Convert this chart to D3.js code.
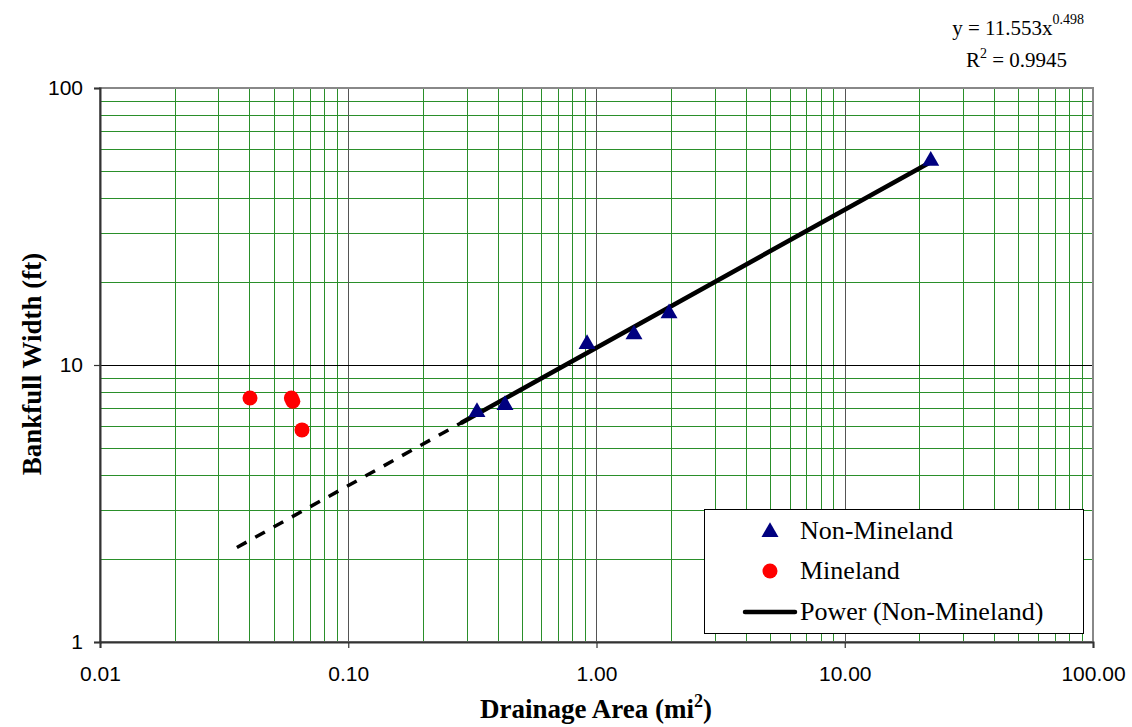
<html>
<head>
<title>bankfull width</title>
<script src="https://cdn.jsdelivr.net/npm/d3@7"></script>
<style>
body { margin: 0; background: white; }
</style>
</head>
<body>
<svg id="chart" width="1132" height="727"></svg>
<script>
// data
var nonMineArea  = [0.330, 0.428, 0.916, 1.416, 1.96, 22.2];
var nonMineWidth = [6.82, 7.23, 12.0, 13.0, 15.5, 55.0];
var mineArea  = [0.0402, 0.0590, 0.0598, 0.0651];
var mineWidth = [7.6, 7.6, 7.4, 5.83];
var fitCoef = 11.553, fitExp = 0.498;
var trendSolid = [0.287, 22.2];
var trendDash  = [0.0356, 0.287];
var xTicks = [0.01, 0.1, 1, 10, 100];
var xTickLabels = ["0.01", "0.10", "1.00", "10.00", "100.00"];
var yTicks = [1, 10, 100];
var yTickLabels = ["1", "10", "100"];
var legendNames = ["Non-Mineland", "Mineland", "Power (Non-Mineland)"];

var plotLeft = 100, plotRight = 1093, plotTop = 88, plotBottom = 642;
var serif = "Liberation Serif, Times New Roman, serif";
var svg = d3.select("#chart");

var x = d3.scaleLog().domain([0.01, 100]).range([plotLeft, plotRight]);
var y = d3.scaleLog().domain([1, 100]).range([plotBottom, plotTop]);

// minor grid lines
var minorX = [], minorY = [];
[0.01, 0.1, 1, 10].forEach(function(d) {
  for (var k = 2; k <= 9; k++) minorX.push(d * k);
});
[1, 10].forEach(function(d) {
  for (var k = 2; k <= 9; k++) minorY.push(d * k);
});

var grid = svg.append("g").attr("shape-rendering", "crispEdges");
grid.selectAll("line.mx").data(minorX).enter().append("line")
  .attr("x1", function(d) { return Math.round(x(d)) + 0.5; })
  .attr("x2", function(d) { return Math.round(x(d)) + 0.5; })
  .attr("y1", plotTop).attr("y2", plotBottom)
  .style("stroke", "#2a8f2a").style("stroke-width", 1);
grid.selectAll("line.my").data(minorY).enter().append("line")
  .attr("y1", function(d) { return Math.round(y(d)) + 0.5; })
  .attr("y2", function(d) { return Math.round(y(d)) + 0.5; })
  .attr("x1", plotLeft).attr("x2", plotRight)
  .style("stroke", "#2a8f2a").style("stroke-width", 1);
// major grid
grid.selectAll("line.Mx").data([0.1, 1, 10]).enter().append("line")
  .attr("x1", function(d) { return Math.round(x(d)) + 0.5; })
  .attr("x2", function(d) { return Math.round(x(d)) + 0.5; })
  .attr("y1", plotTop).attr("y2", plotBottom)
  .style("stroke", "#555").style("stroke-width", 1);
grid.selectAll("line.My").data([10]).enter().append("line")
  .attr("y1", function(d) { return Math.round(y(d)) + 0.5; })
  .attr("y2", function(d) { return Math.round(y(d)) + 0.5; })
  .attr("x1", plotLeft).attr("x2", plotRight)
  .style("stroke", "#000").style("stroke-width", 1);

// frame top/right
svg.append("rect").attr("x", plotLeft).attr("y", plotTop)
  .attr("width", plotRight - plotLeft).attr("height", plotBottom - plotTop)
  .style("fill", "none").style("stroke", "#888").style("stroke-width", 2);

// axes
var xAxis = d3.axisBottom(x).tickValues(xTicks)
  .tickFormat(function(d, i) { return xTickLabels[i]; }).tickSize(6).tickPadding(18);
var yAxis = d3.axisLeft(y).tickValues(yTicks)
  .tickFormat(function(d, i) { return yTickLabels[i]; }).tickSize(6).tickPadding(11);

var gx = svg.append("g").attr("transform", "translate(0," + plotBottom + ")").call(xAxis);
var gy = svg.append("g").attr("transform", "translate(" + plotLeft + ",0)").call(yAxis);
[gx, gy].forEach(function(g) {
  g.select(".domain").style("stroke", "#333").style("stroke-width", 2);
  g.selectAll(".tick line").style("stroke", "#333").style("stroke-width", 1.2);
  g.selectAll("text").style("font-family", "Liberation Sans, Arial, sans-serif")
    .style("font-size", "21px").style("fill", "#000");
});

// trend line
var line = d3.line()
  .x(function(d) { return x(d); })
  .y(function(d) { return y(fitCoef * Math.pow(d, fitExp)); });
svg.append("path").datum(trendDash).attr("d", line)
  .style("fill", "none").style("stroke", "#000").style("stroke-width", 3.5)
  .style("stroke-dasharray", "11,10");
svg.append("path").datum(trendSolid).attr("d", line)
  .style("fill", "none").style("stroke", "#000").style("stroke-width", 4.5)
  .style("stroke-linecap", "round");

// points
var tri = d3.symbol().type(d3.symbolTriangle).size(125);
svg.append("g").selectAll("path").data(nonMineArea).enter().append("path")
  .attr("d", tri)
  .attr("transform", function(d, i) { return "translate(" + x(d) + "," + (y(nonMineWidth[i]) + 1) + ")"; })
  .style("fill", "#000080");
svg.append("g").selectAll("circle").data(mineArea).enter().append("circle")
  .attr("cx", function(d) { return x(d); })
  .attr("cy", function(d, i) { return y(mineWidth[i]); })
  .attr("r", 7.5).style("fill", "#ff0000");

// axis titles
svg.append("text").attr("x", 596).attr("y", 718).attr("text-anchor", "middle")
  .style("font-family", serif).style("font-weight", "bold").style("font-size", "27px")
  .html('Drainage Area (mi<tspan dy="-11" font-size="18px">2</tspan><tspan dy="11">)</tspan>');
svg.append("text").attr("transform", "translate(41,364) rotate(-90)").attr("text-anchor", "middle")
  .style("font-family", serif).style("font-weight", "bold")
  .style("font-size", "27px").text("Bankfull Width (ft)");

// equation
var eq = svg.append("g").style("font-family", serif).style("font-size", "21px");
eq.append("text").attr("x", 1084).attr("y", 35).attr("text-anchor", "end")
  .html('y = 11.553x<tspan dy="-11" font-size="14px">0.498</tspan>');
eq.append("text").attr("x", 1067).attr("y", 67).attr("text-anchor", "end")
  .html('R<tspan dy="-9" font-size="14px">2</tspan><tspan dy="9"> = 0.9945</tspan>');

// legend
var lg = svg.append("g");
lg.append("rect").attr("x", 704.5).attr("y", 509.5).attr("width", 379).attr("height", 124)
  .style("fill", "white").style("stroke", "#000").style("stroke-width", 1);
var rowY = [531, 571, 612];
lg.selectAll("text").data(legendNames).enter().append("text")
  .attr("x", 800).attr("y", function(d, i) { return rowY[i] + 8; })
  .style("font-family", serif).style("font-size", "26px")
  .text(function(d) { return d; });
lg.append("path").attr("d", tri).attr("transform", "translate(770," + (rowY[0] + 1) + ")").style("fill", "#000080");
lg.append("circle").attr("cx", 770).attr("cy", rowY[1]).attr("r", 7.5).style("fill", "#ff0000");
lg.append("line").attr("x1", 745).attr("x2", 795).attr("y1", rowY[2]).attr("y2", rowY[2])
  .style("stroke", "#000").style("stroke-width", 4.5).style("stroke-linecap", "round");
</script>
</body>
</html>
